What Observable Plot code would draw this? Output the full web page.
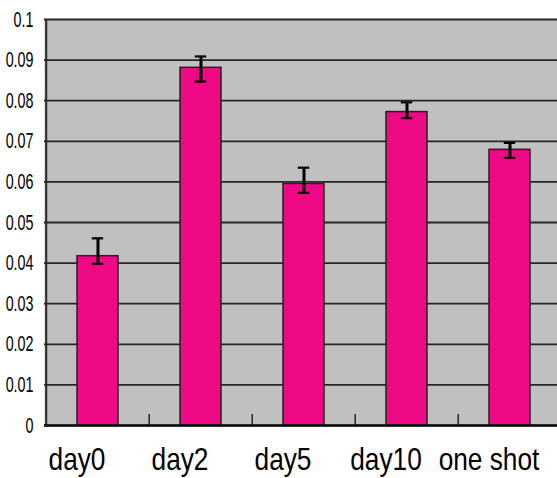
<!DOCTYPE html>
<html>
<head>
<meta charset="utf-8">
<script src="https://cdn.jsdelivr.net/npm/d3@7"></script>
<script src="https://cdn.jsdelivr.net/npm/@observablehq/plot@0.6"></script>
<style>
  html, body { margin: 0; padding: 0; background: #fff; overflow: hidden; }
  #chart svg { display: block; }
</style>
</head>
<body>
<div id="chart"></div>
<script>
const categories = ["day0", "day2", "day5", "day10", "one shot"];
const values = [0.0417, 0.0881, 0.0595, 0.0772, 0.0679];
const errLow = [0.0398, 0.0847, 0.0573, 0.0757, 0.0659];
const errHigh = [0.0461, 0.0909, 0.0635, 0.0796, 0.0696];
const yTicks = [0, 0.01, 0.02, 0.03, 0.04, 0.05, 0.06, 0.07, 0.08, 0.09, 0.1];
const yTickLabels = ["0", "0.01", "0.02", "0.03", "0.04", "0.05", "0.06", "0.07", "0.08", "0.09", "0.1"];

const data = categories.map((c, i) => ({cat: c, v: values[i], lo: errLow[i], hi: errHigh[i]}));

const W = 557, H = 478;
const xRange = [44, 562];
const bw = (xRange[1] - xRange[0]) / categories.length;

const chart = Plot.plot({
  width: W,
  height: H,
  marginLeft: 44,
  marginRight: 0,
  marginTop: 19,
  marginBottom: 53,
  style: {background: "#fff", overflow: "hidden"},
  x: {domain: categories, range: xRange, padding: 0},
  y: {domain: [0, 0.1]},
  marks: [
    Plot.frame({fill: "#c0c0c0", stroke: "none"}),
    Plot.ruleY(yTicks, {stroke: "#262626", strokeWidth: 1.8}),
    Plot.ruleX(categories.slice(0, 1), {x: d => d, dx: -bw / 2, stroke: "#262626", strokeWidth: 2}),
    Plot.ruleX(categories.slice(1), {x: d => d, dx: -bw / 2, y1: 0, y2: 0.0027, stroke: "#262626", strokeWidth: 1.5}),
    Plot.barY(data, {x: "cat", y: "v", fill: "#ee0a84", stroke: "#222", strokeWidth: 1.5, insetLeft: 31, insetRight: 31}),
    Plot.ruleX(data, {x: "cat", y1: "lo", y2: "hi", stroke: "#000", strokeWidth: 3}),
    Plot.tickY(data, {x: "cat", y: "hi", stroke: "#000", strokeWidth: 2.2, insetLeft: 45.8, insetRight: 45.8}),
    Plot.tickY(data, {x: "cat", y: "lo", stroke: "#000", strokeWidth: 2.2, insetLeft: 45.8, insetRight: 45.8}),
    Plot.ruleY([0], {stroke: "#111", strokeWidth: 2.6}),
    Plot.axisY({
      ticks: yTicks,
      tickFormat: d => yTickLabels[yTicks.indexOf(d)],
      tickSize: 0,
      tickPadding: 11,
      fontSize: 22,
      fontFamily: "'Liberation Sans', Arial, sans-serif",
      fill: "#000",
      label: null
    }),
    Plot.axisX({
      tickSize: 0,
      tickPadding: 22,
      fontSize: 32,
      fontFamily: "'Liberation Sans', Arial, sans-serif",
      fill: "#000",
      dx: -21,
      label: null
    })
  ]
});

document.getElementById("chart").appendChild(chart);

// narrow the glyphs horizontally, as in the reference (stretched text)
function squeeze(axis, sx) {
  chart.querySelectorAll("g[aria-label] text").forEach(t => {
    const lbl = t.parentNode.getAttribute("aria-label") || "";
    if (!lbl.startsWith(axis) || !lbl.includes("label")) return;
    const L = t.getComputedTextLength();
    if (L > 0) {
      t.setAttribute("textLength", (L * sx).toFixed(2));
      t.setAttribute("lengthAdjust", "spacingAndGlyphs");
    }
  });
}
squeeze("y-axis", 0.65);
squeeze("x-axis", 0.82);
</script>
</body>
</html>
